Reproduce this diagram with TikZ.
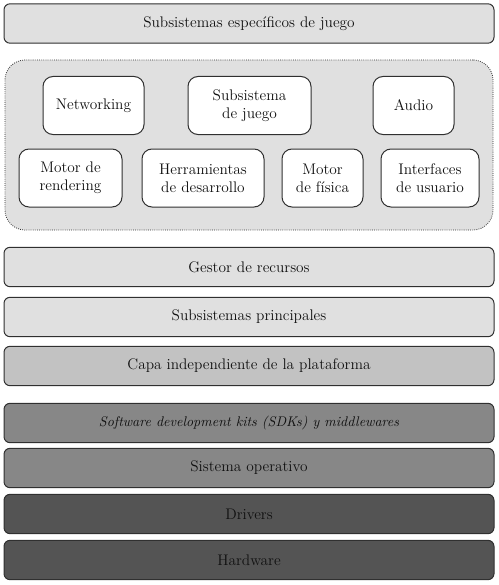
\documentclass[tikz,border=0pt]{standalone}
\usepackage{tikz}
\usetikzlibrary{positioning,calc}
\definecolor{ink}{HTML}{101010}
\definecolor{edge}{HTML}{303030}
\definecolor{pale}{HTML}{E0E0E0}
\definecolor{mid}{HTML}{C2C2C2}
\definecolor{dim}{HTML}{878787}
\definecolor{deep}{HTML}{545454}
\tikzset{
  layer/.style={draw=edge,line width=0.75pt,rounded corners=4.5pt,minimum width=367.5pt,minimum height=29.5pt,inner sep=0pt,font=\fontsize{11.5}{13.5}\selectfont,text=ink},
  unit/.style={draw=edge,fill=white,line width=0.75pt,rounded corners=7.5pt,minimum height=43.5pt,inner sep=0pt,align=center,font=\fontsize{11.5}{13.5}\selectfont,text=ink},
  group/.style={draw=edge,densely dotted,line width=0.6pt,fill=pale,rounded corners=15pt,minimum width=366pt,minimum height=127.5pt,inner sep=0pt}
}

\begin{document}
\begin{tikzpicture}[x=0.75pt,y=-0.75pt]
\useasboundingbox (0,0) rectangle (499,585);
\node[layer,fill=pale] (game) at (249,23.5) {Subsistemas específicos de juego};
\node[group] (engine) at (249,145) {};
\foreach \i/\x/\y/\w/\txt in {net/93.5/105.5/101/Networking,play/249.5/105.5/123/{Subsistema\\de juego},audio/413.5/105.5/81/Audio,render/70.5/178/103/{Motor de\\rendering},tools/203/178/122/{Herramientas\\de desarrollo},phys/322.5/178/81/{Motor\\de física},ui/430/178/98/{Interfaces\\de usuario}}{
  \node[unit,minimum width=\w*0.75pt] (\i) at (\x,\y) {\txt};
}
\foreach \i/\y/\col/\txt in {res/267/pale/Gestor de recursos,core/317/pale/Subsistemas principales,plat/366/mid/Capa independiente de la plataforma,sdk/423/dim/{\fontsize{10.5}{12}\selectfont\itshape Software development kits (SDKs) y middlewares},os/468/dim/Sistema operativo,drv/514/deep/Drivers,hw/560/deep/Hardware}{
  \node[layer,fill=\col] (\i) at (249,\y) {\txt};
}
\end{tikzpicture}
\end{document}
